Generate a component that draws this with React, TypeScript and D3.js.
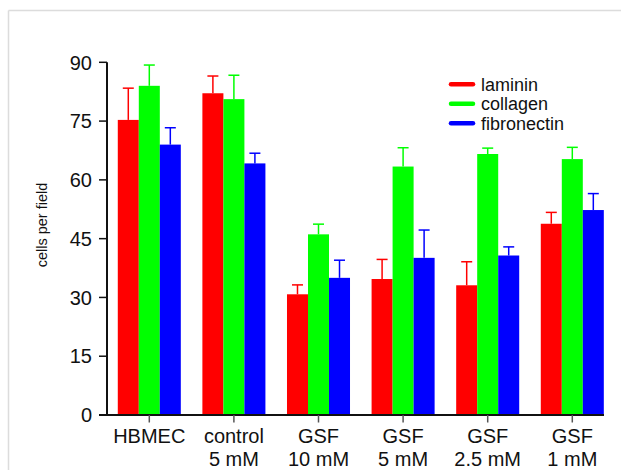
import React, { useEffect, useRef } from 'react';
import * as d3 from 'd3';

// groups along the x axis (two-line labels)
const groups = ['HBMEC', 'control', 'GSF10', 'GSF5', 'GSF2.5', 'GSF1'];
const groupLabels = [
  ['HBMEC'],
  ['control', '5 mM'],
  ['GSF', '10 mM'],
  ['GSF', '5 mM'],
  ['GSF', '2.5 mM'],
  ['GSF', '1 mM'],
];

const seriesNames = ['laminin', 'collagen', 'fibronectin'];
const seriesColors = ['#ff0000', '#00ff00', '#0000ff'];

// mean cells per field, per group
const laminin = [75.3, 82.1, 30.8, 34.7, 33.1, 48.8];
const collagen = [84.0, 80.6, 46.1, 63.4, 66.6, 65.3];
const fibronectin = [69.0, 64.2, 35.0, 40.1, 40.7, 52.3];

// error (upper bar only)
const lamininErr = [8.1, 4.4, 2.4, 5.0, 6.0, 2.9];
const collagenErr = [5.3, 6.1, 2.6, 4.8, 1.5, 3.0];
const fibronectinErr = [4.3, 2.6, 4.5, 7.1, 2.2, 4.2];

const yTicks = [0, 15, 30, 45, 60, 75, 90];

export default function App() {
  const ref = useRef<SVGSVGElement | null>(null);

  useEffect(() => {
    const el = ref.current;
    if (!el) return;
    const svg = d3.select(el);
    svg.selectAll('*').remove();

    const W = 621;
    const H = 470;
    const font = 'Liberation Sans, Arial, sans-serif';

    // frame (light gray, top and left)
    svg.append('line').attr('x1', 8.5).attr('x2', W).attr('y1', 10.5).attr('y2', 10.5)
      .attr('stroke', '#dcdcdc').attr('stroke-width', 1.5);
    svg.append('line').attr('x1', 8.5).attr('x2', 8.5).attr('y1', 10.5).attr('y2', H)
      .attr('stroke', '#dcdcdc').attr('stroke-width', 1.5);

    const y = d3.scaleLinear().domain([0, 90]).range([415, 62.3]);
    const x = d3.scaleBand<string>().domain(groups).range([107, 614.6])
      .paddingInner(0.255).paddingOuter(0.1275);
    const xs = d3.scaleBand<string>().domain(seriesNames).range([0, x.bandwidth()]);

    const values = [laminin, collagen, fibronectin];
    const errs = [lamininErr, collagenErr, fibronectinErr];

    const data = groups.flatMap((g, i) =>
      seriesNames.map((s, j) => ({ g, s, j, v: values[j][i], e: errs[j][i] }))
    );

    // error bars (drawn behind bars)
    const eb = svg.append('g').selectAll('g').data(data).join('g')
      .attr('stroke', (d) => seriesColors[d.j]).attr('stroke-width', 1.5);
    eb.append('line')
      .attr('x1', (d) => x(d.g)! + xs(d.s)! + xs.bandwidth() / 2)
      .attr('x2', (d) => x(d.g)! + xs(d.s)! + xs.bandwidth() / 2)
      .attr('y1', (d) => y(d.v))
      .attr('y2', (d) => y(d.v + d.e));
    eb.append('line')
      .attr('x1', (d) => x(d.g)! + xs(d.s)! + xs.bandwidth() / 2 - 5.5)
      .attr('x2', (d) => x(d.g)! + xs(d.s)! + xs.bandwidth() / 2 + 5.5)
      .attr('y1', (d) => y(d.v + d.e))
      .attr('y2', (d) => y(d.v + d.e));

    // bars
    svg.append('g').selectAll('rect').data(data).join('rect')
      .attr('x', (d) => x(d.g)! + xs(d.s)!)
      .attr('width', xs.bandwidth())
      .attr('y', (d) => y(d.v))
      .attr('height', (d) => y(0) - y(d.v))
      .attr('fill', (d) => seriesColors[d.j]);

    // y axis
    const ya = svg.append('g').attr('font-family', font);
    ya.append('line').attr('x1', 107).attr('x2', 107).attr('y1', y(90)).attr('y2', y(0))
      .attr('stroke', '#111').attr('stroke-width', 2);
    ya.selectAll('line.tick').data(yTicks).join('line').attr('class', 'tick')
      .attr('x1', 99).attr('x2', 107).attr('y1', (d) => y(d)).attr('y2', (d) => y(d))
      .attr('stroke', '#111').attr('stroke-width', 1.5);
    ya.selectAll('text').data(yTicks).join('text')
      .attr('x', 92).attr('y', (d) => y(d)).attr('dy', '0.36em')
      .attr('text-anchor', 'end').attr('font-size', 20).attr('fill', '#111')
      .text((d) => d);

    // x axis
    const xa = svg.append('g').attr('font-family', font);
    xa.append('line').attr('x1', 99).attr('x2', 604).attr('y1', 415).attr('y2', 415)
      .attr('stroke', '#111').attr('stroke-width', 2);
    xa.selectAll('line.tick').data(groups).join('line').attr('class', 'tick')
      .attr('x1', (d) => x(d)! + x.bandwidth() / 2).attr('x2', (d) => x(d)! + x.bandwidth() / 2)
      .attr('y1', 415).attr('y2', 422.5)
      .attr('stroke', '#555').attr('stroke-width', 1.5);
    const lbl = xa.selectAll('text').data(groups).join('text')
      .attr('text-anchor', 'middle').attr('font-size', 20).attr('fill', '#111');
    lbl.each(function (d, i) {
      const t = d3.select(this);
      groupLabels[i].forEach((line, k) => {
        t.append('tspan').attr('x', x(d)! + x.bandwidth() / 2).attr('y', 443 + k * 23).text(line);
      });
    });

    // y label
    svg.append('text')
      .attr('transform', 'translate(46.5,225) rotate(-90)')
      .attr('text-anchor', 'middle').attr('font-family', font).attr('font-size', 14.5)
      .attr('fill', '#111').text('cells per field');

    // legend
    const lg = svg.append('g').attr('font-family', font);
    const ly = d3.scalePoint<string>().domain(seriesNames).range([84.3, 123.3]);
    lg.selectAll('line').data(seriesNames).join('line')
      .attr('x1', 451).attr('x2', 473)
      .attr('y1', (d) => ly(d)!).attr('y2', (d) => ly(d)!)
      .attr('stroke', (_, i) => seriesColors[i]).attr('stroke-width', 4.5)
      .attr('stroke-linecap', 'round');
    lg.selectAll('text').data(seriesNames).join('text')
      .attr('x', 481).attr('y', (d) => ly(d)!).attr('dy', '0.35em')
      .attr('font-size', 18).attr('fill', '#111').text((d) => d);
  }, []);

  return (
    <svg
      ref={ref}
      width={621}
      height={470}
      style={{ position: 'absolute', left: 0, top: 0, background: '#fff' }}
    />
  );
}
